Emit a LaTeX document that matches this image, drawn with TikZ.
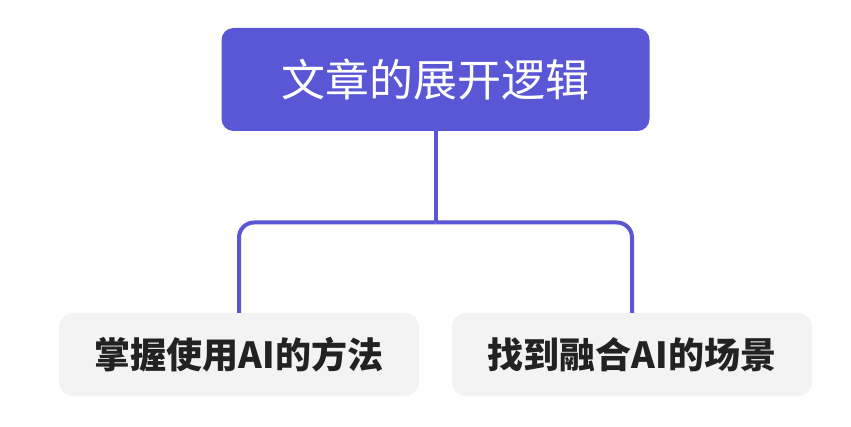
\documentclass[tikz,border=0pt]{standalone}
\usepackage{fontspec}
\newfontfamily\cjk{Noto Sans CJK SC}
\definecolor{mainpurple}{HTML}{5A57D6}
\definecolor{boxgray}{HTML}{F3F3F3}
\definecolor{txtdark}{HTML}{222222}
\begin{document}
\begin{tikzpicture}[x=1pt,y=-1pt,
  rootbox/.style={fill=mainpurple, rounded corners=12pt, minimum width=428pt, minimum height=103pt, inner sep=0pt, text=white, font=\cjk\fontsize{44pt}{50pt}\selectfont},
  leafbox/.style={fill=boxgray, rounded corners=14pt, minimum width=360pt, minimum height=83pt, inner sep=0pt, text=txtdark, font=\cjk\bfseries\fontsize{36pt}{42pt}\selectfont},
  link/.style={draw=mainpurple, line width=4pt, rounded corners=15pt}]
\useasboundingbox (0,0) rectangle (851,427);
\node[rootbox] (root) at (435.5,79.5) {文章的展开逻辑};
\node[leafbox] (left) at (239,354.5) {掌握使用AI的方法};
\node[leafbox] (right) at (632,354.5) {找到融合AI的场景};
\coordinate (j) at (435.5,222.5);
\draw[link] (root.south) -- (j);
\draw[link] (j) -| (left.north);
\draw[link] (j) -| (right.north);
\end{tikzpicture}
\end{document}
